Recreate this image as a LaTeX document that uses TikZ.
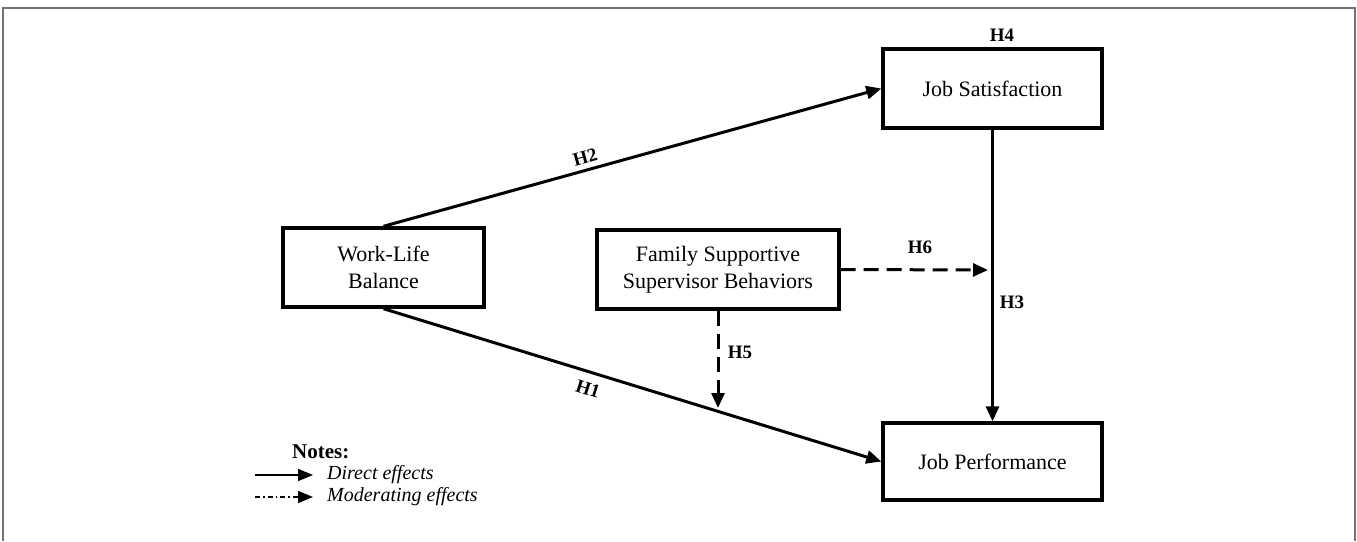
\documentclass[tikz,border=0pt]{standalone}
\usepackage{fontspec}
\setmainfont{Liberation Serif}
\usetikzlibrary{arrows.meta}
\begin{document}
\begin{tikzpicture}[x=1pt,y=-1pt,
  box/.style={draw=black,line width=3.4pt,minimum height=79pt,inner sep=0pt,align=center,
    font=\fontsize{22}{27}\selectfont},
  direct/.style={line width=3pt,-{Triangle[length=15pt,width=13pt]}},
  moder/.style={line width=3pt,dash pattern=on 15pt off 8pt,-{Triangle[length=15pt,width=13pt]}},
  hlab/.style={font=\fontsize{19}{22}\selectfont\bfseries,inner sep=0pt},
  legtext/.style={font=\fontsize{20}{22}\selectfont\itshape,anchor=west,inner sep=0pt},
  legline/.style={line width=1.5pt,-{Triangle[length=15pt,width=12pt]}},
  legdash/.style={legline,dash pattern=on 5pt off 3pt on 1.5pt off 3pt}]
\useasboundingbox (0,0) rectangle (1357,541);
\draw[gray!90!black,line width=1.6pt] (3,541) -- (3,8) -- (1355,8) -- (1355,541);

\node[box,minimum width=201pt] (wlb) at (383.5,267.5) {Work-Life\\Balance};
\node[box,minimum width=242pt] (fssb) at (718,269.5) {Family Supportive\\Supervisor Behaviors};
\node[box,minimum width=219pt] (js) at (992.5,88.5) {Job Satisfaction};
\node[box,minimum width=219pt,minimum height=77pt] (jp) at (992.5,461.5) {Job Performance};

\coordinate (h6end) at (988,270);
\coordinate (h5end) at (718,408);

\draw[direct] (wlb.north) -- (js.west);
\draw[direct] (wlb.south) -- (jp.west);
\draw[direct] (js.south) -- (jp.north);
\draw[moder] (fssb.east) -- (h6end);
\draw[moder] (fssb.south) -- (h5end);

\node[hlab] (h4) at (1002,35) {H4};
\node[hlab] (h6) at (920,247) {H6};
\node[hlab] (h3) at (1012,302) {H3};
\node[hlab] (h5) at (740,352) {H5};
\node[hlab,rotate=15.7] (h2) at (585,157) {H2};
\node[hlab,rotate=-17.3] (h1) at (588,389) {H1};

\node[font=\fontsize{21}{24}\selectfont\bfseries,anchor=west,inner sep=0pt] (notes) at (292,452) {Notes:};
\coordinate (l1a) at (255,475);
\coordinate (l1b) at (313,475);
\coordinate (l2a) at (255,497);
\coordinate (l2b) at (313,497);
\draw[legline] (l1a) -- (l1b);
\draw[legdash] (l2a) -- (l2b);
\node[legtext] (t1) at (327,475) {Direct effects};
\node[legtext] (t2) at (327,497) {Moderating effects};
\end{tikzpicture}
\end{document}
